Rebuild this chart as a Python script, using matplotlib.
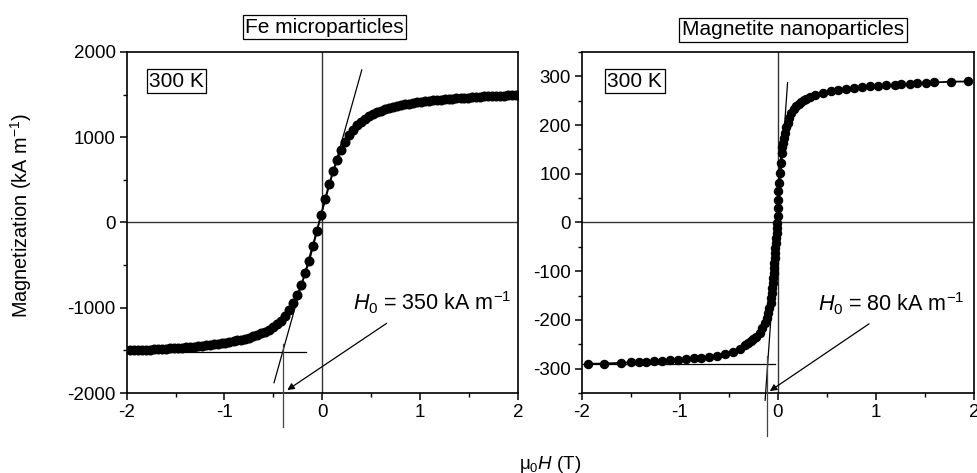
import matplotlib
matplotlib.use("Agg")
import matplotlib.pyplot as plt

plt.rcParams['font.family'] = ['Liberation Sans', 'DejaVu Sans']
plt.rcParams['mathtext.fontset'] = 'custom'
plt.rcParams['mathtext.rm'] = 'Liberation Sans'
plt.rcParams['mathtext.it'] = 'Liberation Sans:italic'
plt.rcParams['axes.unicode_minus'] = False

# ---------------- data: Fe microparticles ----------------
fe_field = [-1.966, -1.925, -1.884, -1.844, -1.803, -1.762, -1.722, -1.681, -1.640, -1.600,
            -1.559, -1.518, -1.478, -1.437, -1.396, -1.356, -1.315, -1.274, -1.234, -1.193,
            -1.152, -1.112, -1.071, -1.030, -0.990, -0.949, -0.908, -0.868, -0.827, -0.786,
            -0.746, -0.705, -0.664, -0.624, -0.583, -0.542, -0.501, -0.461, -0.420, -0.379,
            -0.338, -0.298, -0.257, -0.216, -0.176, -0.135, -0.094, -0.053,
            -0.013, 0.028, 0.069, 0.110, 0.150, 0.191, 0.232, 0.272, 0.313, 0.354,
            0.395, 0.435, 0.476, 0.517, 0.558, 0.598, 0.639, 0.680, 0.720, 0.761,
            0.802, 0.842, 0.883, 0.924, 0.964, 1.005, 1.046, 1.086, 1.127, 1.168,
            1.208, 1.249, 1.290, 1.330, 1.371, 1.412, 1.452, 1.493, 1.534, 1.574,
            1.615, 1.656, 1.696, 1.737, 1.778, 1.818, 1.859, 1.900, 1.940, 1.981]
fe_mag = [-1500, -1498, -1496, -1494, -1492, -1490, -1488, -1485, -1483, -1480,
          -1477, -1474, -1471, -1468, -1464, -1460, -1456, -1452, -1447, -1442,
          -1436, -1430, -1424, -1417, -1410, -1402, -1393, -1384, -1374, -1362,
          -1349, -1335, -1319, -1301, -1280, -1256, -1227, -1192, -1150, -1095,
          -1026, -948, -852, -737, -598, -452, -272, -94,
          92, 272, 450, 600, 736, 850, 945, 1022, 1085, 1140,
          1183, 1218, 1248, 1273, 1294, 1312, 1328, 1342, 1355, 1366,
          1376, 1385, 1393, 1401, 1408, 1414, 1420, 1426, 1431, 1436,
          1441, 1445, 1449, 1453, 1457, 1460, 1463, 1466, 1469, 1472,
          1475, 1478, 1480, 1483, 1485, 1487, 1489, 1491, 1493, 1495]

# ---------------- data: Magnetite nanoparticles ----------------
mag_field = [-1.94, -1.77, -1.60, -1.50, -1.42, -1.34, -1.26, -1.18, -1.10, -1.02,
             -0.94, -0.86, -0.78, -0.70, -0.62, -0.54, -0.46, -0.387,
             -0.336, -0.300, -0.275, -0.252, -0.220, -0.183, -0.158, -0.133, -0.115, -0.099,
             -0.086, -0.074, -0.069, -0.064, -0.059, -0.054, -0.049, -0.044, -0.041, -0.038,
             -0.033, -0.028, -0.024, -0.020, -0.016, -0.013, -0.008, -0.005,
             -0.003, -0.001, 0.000, 0.003, 0.010, 0.017, 0.027, 0.038, 0.046, 0.054,
             0.062, 0.071, 0.084, 0.099, 0.118, 0.139, 0.163, 0.190, 0.215, 0.241,
             0.266, 0.292, 0.330, 0.377, 0.46, 0.54, 0.61, 0.69, 0.78, 0.86,
             0.94, 1.02, 1.10, 1.19, 1.26, 1.35, 1.42, 1.51, 1.59, 1.77, 1.94]
mag_mag = [-290, -289.5, -288, -287, -286, -285.4, -284.7, -284, -283, -282,
           -280.5, -279, -277.5, -275.5, -273, -270, -266.5, -260,
           -251, -247, -243.5, -240, -234, -226, -217, -206, -196, -185,
           -175, -165, -155, -144, -134, -124, -113, -103, -93, -83,
           -72, -62, -52, -42, -31, -21, -11, -2,
           14, 30, 47, 64, 81, 102, 123, 143, 154, 164,
           174, 184, 195, 205, 215, 225, 233, 239, 244, 248,
           251, 254, 258, 261, 266, 269, 272, 274.5, 276.5, 278,
           279.5, 280.5, 282, 283, 284, 284.7, 285.4, 286, 287.5, 289, 289.5]

# guide lines (tangent, saturation level, H0 marker) and annotations
fe_tangent_x = [-0.494, 0.403]
fe_tangent_y = [-1879, 1789]
fe_sat_x = [-2.0, -0.17]
fe_sat_y = [-1520, -1520]
fe_h0_x = [-0.40, -0.40]
fe_h0_y = [-1430, -2400]
fe_arrow_tail = (0.658, -1182)
fe_arrow_head = (-0.358, -1965)

mag_tangent_x = [-0.13, 0.099]
mag_tangent_y = [-365, 287]
mag_sat_x = [-2.0, -0.03]
mag_sat_y = [-290, -290]
mag_h0_x = [-0.11, -0.11]
mag_h0_y = [-274, -439]
mag_arrow_tail = (0.93, -208)
mag_arrow_head = (-0.082, -346)

fig = plt.figure(figsize=(9.78, 4.73), dpi=100)
axL = fig.add_axes([0.1295, 0.1691, 0.4002, 0.7210])
axR = fig.add_axes([0.5948, 0.1691, 0.4011, 0.7210])

tick_fs = 13.5
for ax in (axL, axR):
    ax.set_xlim(-2, 2)
    ax.axhline(0, color='#333333', lw=1.0, zorder=1)
    ax.axvline(0, color='#333333', lw=1.0, zorder=1)
    ax.set_xticks([-2, -1, 0, 1, 2])
    ax.set_xticks([-1.5, -0.5, 0.5, 1.5], minor=True)
    ax.tick_params(which='major', direction='out', length=5, width=1.1,
                   labelsize=tick_fs, top=False, right=False, pad=3)
    ax.tick_params(which='minor', direction='out', length=3, width=1.0,
                   top=False, right=False)
    for s in ax.spines.values():
        s.set_linewidth(1.2)

axL.set_ylim(-2000, 2000)
axL.set_yticks([-2000, -1000, 0, 1000, 2000])
axL.set_yticks([-1500, -500, 500, 1500], minor=True)
axR.set_ylim(-350, 350)
axR.set_yticks([-300, -200, -100, 0, 100, 200, 300])
axR.set_yticks([-350, -250, -150, -50, 50, 150, 250, 350], minor=True)

axL.plot(fe_field, fe_mag, '-o', color='black', lw=1.3, ms=6.2, zorder=3)
axR.plot(mag_field, mag_mag, '-o', color='black', lw=1.3, ms=5.8, zorder=3)

line_kw = dict(color='black', lw=0.9, zorder=4, clip_on=False)
axL.plot(fe_tangent_x, fe_tangent_y, **line_kw)
axL.plot(fe_sat_x, fe_sat_y, **line_kw)
axL.plot(fe_h0_x, fe_h0_y, color='#444444', lw=0.9, zorder=4, clip_on=False)
axR.plot(mag_tangent_x, mag_tangent_y, **line_kw)
axR.plot(mag_sat_x, mag_sat_y, **line_kw)
axR.plot(mag_h0_x, mag_h0_y, color='#444444', lw=0.9, zorder=4, clip_on=False)

arrow_kw = dict(arrowstyle='-|>', color='black', lw=0.9, mutation_scale=10,
                shrinkA=0, shrinkB=0)
axL.annotate('', xy=fe_arrow_head, xytext=fe_arrow_tail, arrowprops=arrow_kw)
axR.annotate('', xy=mag_arrow_head, xytext=mag_arrow_tail, arrowprops=arrow_kw)

ann_fs = 15.5
axL.text(0.317, -1026, r'$H_0$ = 350 kA m$^{-1}$', fontsize=ann_fs, ha='left', va='baseline')
axR.text(0.41, -182, r'$H_0$ = 80 kA m$^{-1}$', fontsize=ann_fs, ha='left', va='baseline')

box = dict(boxstyle='square,pad=0.12', fc='white', ec='black', lw=0.9)
axL.text(-1.49, 1656, '300 K', fontsize=15, ha='center', va='center', bbox=box)
axR.text(-1.46, 290, '300 K', fontsize=15, ha='center', va='center', bbox=box)

fig.text(0.3318, 0.9429, 'Fe microparticles', fontsize=15, ha='center', va='center', bbox=box)
fig.text(0.8108, 0.9366, 'Magnetite nanoparticles', fontsize=15, ha='center', va='center', bbox=box)

fig.text(0.022, 0.5444, r'Magnetization (kA m$^{-1}$)', fontsize=14.3, rotation=90,
         ha='center', va='center')
fig.text(0.5625, 0.019, r'μ$_0$$H$ (T)', fontsize=13.5, ha='center', va='center')

fig.savefig('out.png', dpi=100)
